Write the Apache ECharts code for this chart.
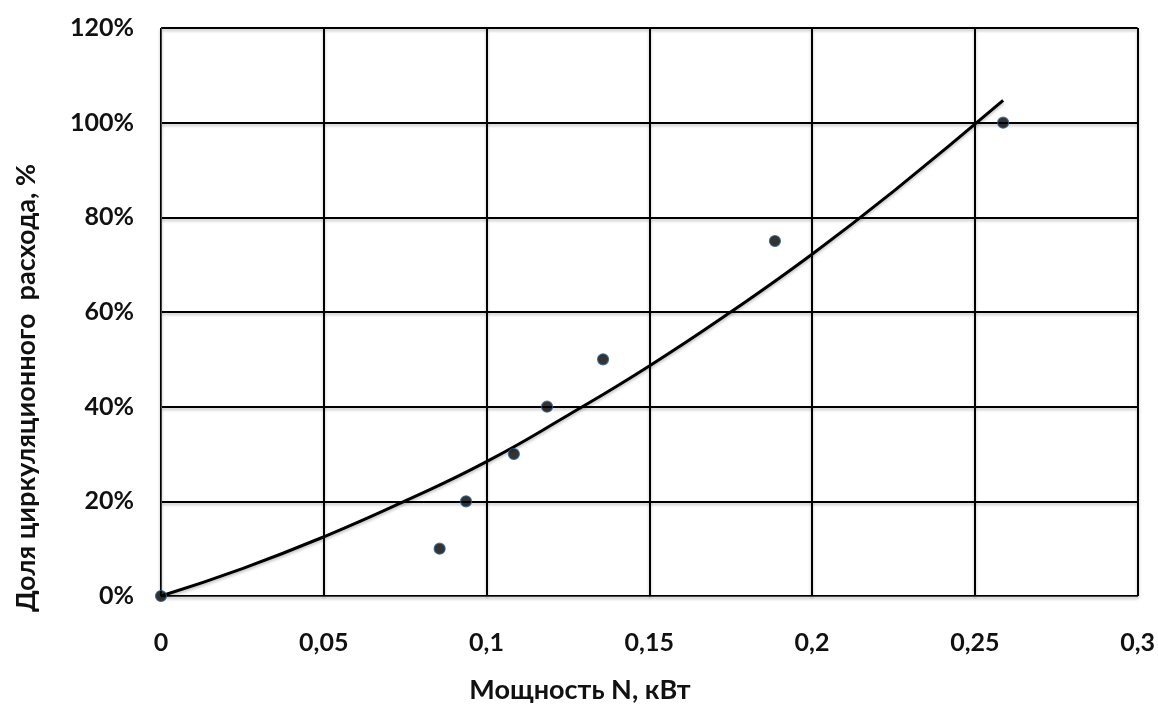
<!DOCTYPE html>
<html><head><meta charset="utf-8">
<script src="https://cdn.jsdelivr.net/npm/echarts@6/dist/echarts.min.js"></script>
<style>html,body{margin:0;padding:0;background:#fff}#c{width:1158px;height:713px}</style>
</head><body><div id="c"></div>
<script>
// Measured points
var pointX = [0, 0.0856, 0.0937, 0.1084, 0.1186, 0.1358, 0.1886, 0.2587];
var pointY = [0, 10, 20, 30, 40, 50, 75, 100];
// Trend curve
var curveX = [0, 0.025, 0.05, 0.075, 0.1, 0.125, 0.15, 0.175, 0.2, 0.225, 0.2587];
var curveY = [0, 5.8, 12.5, 20.1, 28.4, 38.2, 48.6, 60, 72.2, 85.5, 104.7];
var xTitle = 'Мощность N, кВт';
var yTitle = 'Доля циркуляционного  расхода, %';

function pairs(xs, ys){ return xs.map(function(x,i){ return [x, ys[i]]; }); }
var FONT = 'Lato, "Open Sans", sans-serif';
var shadow = {shadowColor: 'rgba(0,0,0,0.25)', shadowBlur: 3, shadowOffsetY: 2};
var chart = echarts.init(document.getElementById('c'));
chart.setOption({
  animation: false,
  grid: {left: 161, top: 28, right: 20, bottom: 117, containLabel: false},
  xAxis: {
    type: 'value', min: 0, max: 0.3, interval: 0.05,
    axisLine: {show: true, lineStyle: {color: '#444', width: 1}},
    axisTick: {show: false},
    axisLabel: {fontFamily: FONT, fontWeight: 'bold', fontSize: 25, color: '#111', margin: 34,
      formatter: function(v){ return String(+v.toFixed(2)).replace('.', ','); }},
    splitLine: {show: true, lineStyle: Object.assign({color: '#000', width: 2}, shadow)}
  },
  yAxis: {
    type: 'value', min: 0, max: 120, interval: 20,
    axisLine: {show: true, lineStyle: {color: '#444', width: 1}},
    axisTick: {show: false},
    axisLabel: {fontFamily: FONT, fontWeight: 'bold', fontSize: 25, color: '#111', margin: 27,
      formatter: '{value}%'},
    splitLine: {show: true, lineStyle: Object.assign({color: '#000', width: 2}, shadow)}
  },
  graphic: [
    {type: 'text', x: 580, y: 690, style: {text: xTitle, fontFamily: FONT, fontWeight: 'bold',
      fontSize: 27, fill: '#111', align: 'center', verticalAlign: 'middle'}},
    {type: 'text', x: 26, y: 388, rotation: Math.PI / 2, style: {text: yTitle, fontFamily: FONT,
      fontWeight: 'bold', fontSize: 27, fill: '#111', align: 'center', verticalAlign: 'middle'}}
  ],
  series: [
    {type: 'line', data: pairs(curveX, curveY), smooth: true, showSymbol: false,
     lineStyle: Object.assign({color: '#000', width: 3}, shadow), z: 3},
    {type: 'scatter', data: pairs(pointX, pointY), symbolSize: 11,
     itemStyle: {color: '#000', borderColor: '#2f5d8c', borderWidth: 1.2}, z: 4}
  ]
});
</script></body></html>
